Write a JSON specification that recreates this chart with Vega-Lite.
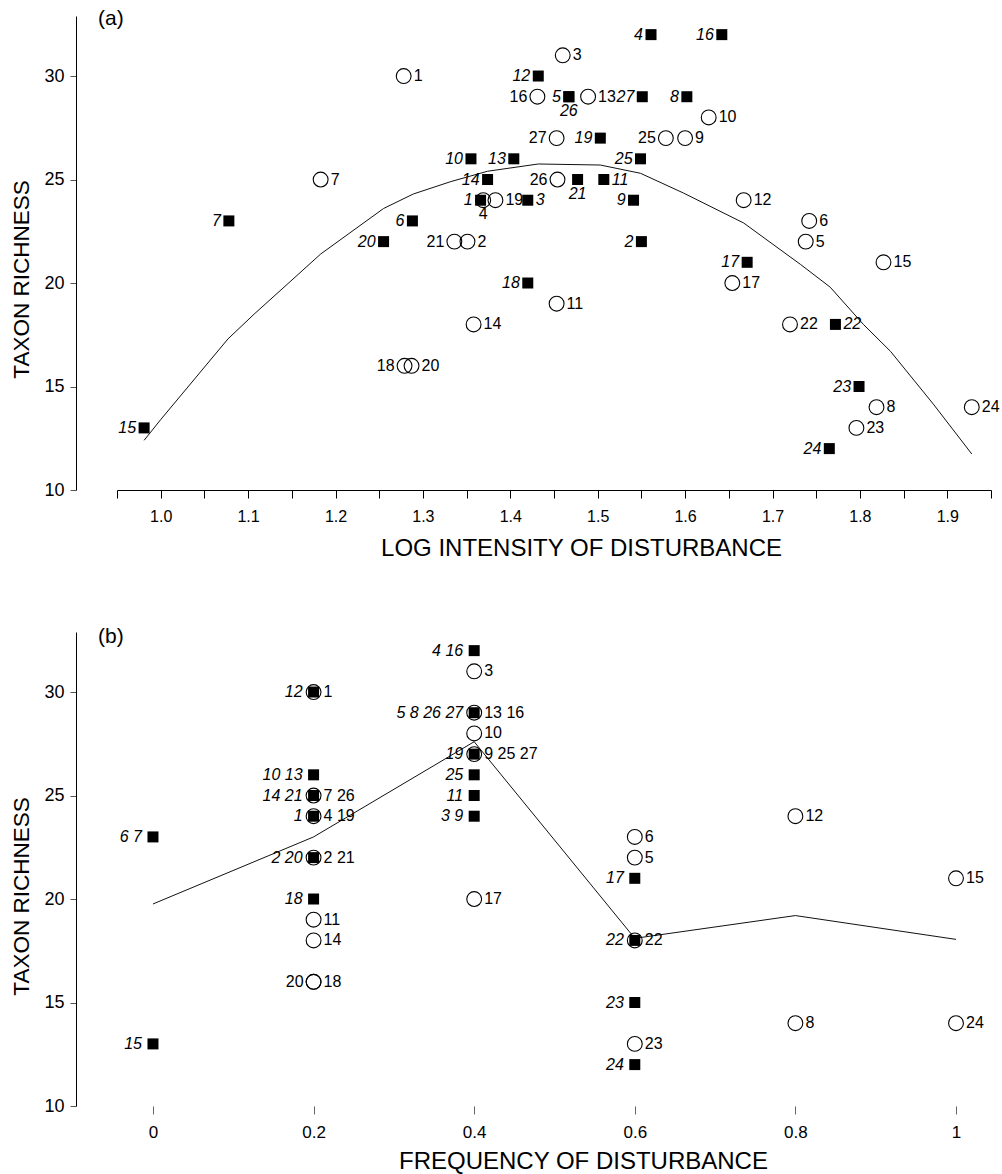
{
  "$schema": "https://vega.github.io/schema/vega-lite/v6.json",
  "padding": {"left": 10, "top": 8, "right": 5, "bottom": 5},
  "background": "white",
  "config": {
    "view": {"stroke": null},
    "font": "Liberation Sans",
    "axis": {"grid": false, "domainColor": "#000", "tickColor": "#000", "labelColor": "#000", "titleColor": "#000", "titleFontWeight": "normal", "labelFont": "Liberation Sans", "titleFont": "Liberation Sans", "labelFlush": false, "labelOverlap": false, "labelBound": false}
  },
  "datasets": {
    "a_curve": [
      {"x": 0.981, "y": 12.4}, {"x": 1.0, "y": 13.4}, {"x": 1.077, "y": 17.3}, {"x": 1.107, "y": 18.5},
      {"x": 1.149, "y": 20.1}, {"x": 1.183, "y": 21.4}, {"x": 1.255, "y": 23.6}, {"x": 1.289, "y": 24.3},
      {"x": 1.332, "y": 24.9}, {"x": 1.374, "y": 25.4}, {"x": 1.432, "y": 25.75}, {"x": 1.503, "y": 25.7},
      {"x": 1.549, "y": 25.3}, {"x": 1.598, "y": 24.35}, {"x": 1.667, "y": 22.9}, {"x": 1.732, "y": 20.9},
      {"x": 1.766, "y": 19.8}, {"x": 1.804, "y": 18.0}, {"x": 1.835, "y": 16.7}, {"x": 1.884, "y": 14.15},
      {"x": 1.928, "y": 11.74}
    ],
    "a_points": [
      {"type": "sq", "lab": "1", "x": 1.366, "y": 24, "side": "L"},
      {"type": "sq", "lab": "2", "x": 1.550, "y": 22, "side": "L"},
      {"type": "sq", "lab": "3", "x": 1.420, "y": 24, "side": "R"},
      {"type": "sq", "lab": "4", "x": 1.561, "y": 32, "side": "L"},
      {"type": "sq", "lab": "5", "x": 1.467, "y": 29, "side": "L"},
      {"type": "sq", "lab": "6", "x": 1.288, "y": 23, "side": "L"},
      {"type": "sq", "lab": "7", "x": 1.078, "y": 23, "side": "L"},
      {"type": "sq", "lab": "8", "x": 1.602, "y": 29, "side": "L"},
      {"type": "sq", "lab": "9", "x": 1.541, "y": 24, "side": "L"},
      {"type": "sq", "lab": "10", "x": 1.355, "y": 26, "side": "L"},
      {"type": "sq", "lab": "11", "x": 1.507, "y": 25, "side": "R"},
      {"type": "sq", "lab": "12", "x": 1.432, "y": 30, "side": "L"},
      {"type": "sq", "lab": "13", "x": 1.404, "y": 26, "side": "L"},
      {"type": "sq", "lab": "14", "x": 1.374, "y": 25, "side": "L"},
      {"type": "sq", "lab": "15", "x": 0.981, "y": 13, "side": "L"},
      {"type": "sq", "lab": "16", "x": 1.642, "y": 32, "side": "L"},
      {"type": "sq", "lab": "17", "x": 1.671, "y": 21, "side": "L"},
      {"type": "sq", "lab": "18", "x": 1.420, "y": 20, "side": "L"},
      {"type": "sq", "lab": "19", "x": 1.503, "y": 27, "side": "L"},
      {"type": "sq", "lab": "20", "x": 1.255, "y": 22, "side": "L"},
      {"type": "sq", "lab": "21", "x": 1.477, "y": 25, "side": "B"},
      {"type": "sq", "lab": "22", "x": 1.772, "y": 18, "side": "R"},
      {"type": "sq", "lab": "23", "x": 1.799, "y": 15, "side": "L"},
      {"type": "sq", "lab": "24", "x": 1.765, "y": 12, "side": "L"},
      {"type": "sq", "lab": "25", "x": 1.549, "y": 26, "side": "L"},
      {"type": "sq", "lab": "26", "x": 1.467, "y": 29, "side": "B"},
      {"type": "sq", "lab": "27", "x": 1.551, "y": 29, "side": "L"},
      {"type": "ci", "lab": "1", "x": 1.278, "y": 30, "side": "R"},
      {"type": "ci", "lab": "2", "x": 1.351, "y": 22, "side": "R"},
      {"type": "ci", "lab": "3", "x": 1.460, "y": 31, "side": "R"},
      {"type": "ci", "lab": "4", "x": 1.369, "y": 24, "side": "B"},
      {"type": "ci", "lab": "5", "x": 1.738, "y": 22, "side": "R"},
      {"type": "ci", "lab": "6", "x": 1.742, "y": 23, "side": "R"},
      {"type": "ci", "lab": "7", "x": 1.183, "y": 25, "side": "R"},
      {"type": "ci", "lab": "8", "x": 1.819, "y": 14, "side": "R"},
      {"type": "ci", "lab": "9", "x": 1.600, "y": 27, "side": "R"},
      {"type": "ci", "lab": "10", "x": 1.627, "y": 28, "side": "R"},
      {"type": "ci", "lab": "11", "x": 1.453, "y": 19, "side": "R"},
      {"type": "ci", "lab": "12", "x": 1.667, "y": 24, "side": "R"},
      {"type": "ci", "lab": "13", "x": 1.489, "y": 29, "side": "R"},
      {"type": "ci", "lab": "14", "x": 1.358, "y": 18, "side": "R"},
      {"type": "ci", "lab": "15", "x": 1.827, "y": 21, "side": "R"},
      {"type": "ci", "lab": "16", "x": 1.431, "y": 29, "side": "L"},
      {"type": "ci", "lab": "17", "x": 1.654, "y": 20, "side": "R"},
      {"type": "ci", "lab": "18", "x": 1.279, "y": 16, "side": "L"},
      {"type": "ci", "lab": "19", "x": 1.383, "y": 24, "side": "R"},
      {"type": "ci", "lab": "20", "x": 1.287, "y": 16, "side": "R"},
      {"type": "ci", "lab": "21", "x": 1.336, "y": 22, "side": "L"},
      {"type": "ci", "lab": "22", "x": 1.720, "y": 18, "side": "R"},
      {"type": "ci", "lab": "23", "x": 1.796, "y": 13, "side": "R"},
      {"type": "ci", "lab": "24", "x": 1.928, "y": 14, "side": "R"},
      {"type": "ci", "lab": "25", "x": 1.578, "y": 27, "side": "L"},
      {"type": "ci", "lab": "26", "x": 1.454, "y": 25, "side": "L"},
      {"type": "ci", "lab": "27", "x": 1.453, "y": 27, "side": "L"}
    ],
    "b_curve": [
      {"x": 0, "y": 19.76}, {"x": 0.2, "y": 23.0}, {"x": 0.4, "y": 27.6},
      {"x": 0.6, "y": 18.1}, {"x": 0.8, "y": 19.2}, {"x": 1.0, "y": 18.05}
    ],
    "b_points": [
      {"type": "ci", "lab": "1", "x": 0.2, "y": 30, "side": "R"},
      {"type": "ci", "lab": "7 26", "x": 0.2, "y": 25, "side": "R"},
      {"type": "ci", "lab": "4 19", "x": 0.2, "y": 24, "side": "R"},
      {"type": "ci", "lab": "2 21", "x": 0.2, "y": 22, "side": "R"},
      {"type": "ci", "lab": "11", "x": 0.2, "y": 19, "side": "R"},
      {"type": "ci", "lab": "14", "x": 0.2, "y": 18, "side": "R"},
      {"type": "ci", "lab": "18", "x": 0.2, "y": 16, "side": "R"},
      {"type": "ci", "lab": "20", "x": 0.2, "y": 16, "side": "L"},
      {"type": "ci", "lab": "3", "x": 0.4, "y": 31, "side": "R"},
      {"type": "ci", "lab": "13 16", "x": 0.4, "y": 29, "side": "R"},
      {"type": "ci", "lab": "10", "x": 0.4, "y": 28, "side": "R"},
      {"type": "ci", "lab": "9 25 27", "x": 0.4, "y": 27, "side": "R"},
      {"type": "ci", "lab": "17", "x": 0.4, "y": 20, "side": "R"},
      {"type": "ci", "lab": " 6", "x": 0.6, "y": 23, "side": "R"},
      {"type": "ci", "lab": " 5", "x": 0.6, "y": 22, "side": "R"},
      {"type": "ci", "lab": "22", "x": 0.6, "y": 18, "side": "R"},
      {"type": "ci", "lab": "23", "x": 0.6, "y": 13, "side": "R"},
      {"type": "ci", "lab": "12", "x": 0.8, "y": 24, "side": "R"},
      {"type": "ci", "lab": "8", "x": 0.8, "y": 14, "side": "R"},
      {"type": "ci", "lab": "15", "x": 1.0, "y": 21, "side": "R"},
      {"type": "ci", "lab": "24", "x": 1.0, "y": 14, "side": "R"},
      {"type": "sq", "lab": "6 7", "x": 0, "y": 23, "side": "L"},
      {"type": "sq", "lab": "15", "x": 0, "y": 13, "side": "L"},
      {"type": "sq", "lab": "12", "x": 0.2, "y": 30, "side": "L"},
      {"type": "sq", "lab": "10 13", "x": 0.2, "y": 26, "side": "L"},
      {"type": "sq", "lab": "14 21", "x": 0.2, "y": 25, "side": "L"},
      {"type": "sq", "lab": "1", "x": 0.2, "y": 24, "side": "L"},
      {"type": "sq", "lab": "2 20", "x": 0.2, "y": 22, "side": "L"},
      {"type": "sq", "lab": "18", "x": 0.2, "y": 20, "side": "L"},
      {"type": "sq", "lab": "4 16", "x": 0.4, "y": 32, "side": "L"},
      {"type": "sq", "lab": "5 8 26 27", "x": 0.4, "y": 29, "side": "L"},
      {"type": "sq", "lab": "19", "x": 0.4, "y": 27, "side": "L"},
      {"type": "sq", "lab": "25", "x": 0.4, "y": 26, "side": "L"},
      {"type": "sq", "lab": "11", "x": 0.4, "y": 25, "side": "L"},
      {"type": "sq", "lab": "3 9", "x": 0.4, "y": 24, "side": "L"},
      {"type": "sq", "lab": "17", "x": 0.6, "y": 21, "side": "L"},
      {"type": "sq", "lab": "22", "x": 0.6, "y": 18, "side": "L"},
      {"type": "sq", "lab": "23", "x": 0.6, "y": 15, "side": "L"},
      {"type": "sq", "lab": "24", "x": 0.6, "y": 12, "side": "L"}
    ]
  },
  "concat": [
    {
      "width": 874,
      "height": 474,
      "title": {"text": "(a)", "anchor": "start", "frame": "group", "orient": "top", "offset": 0, "fontSize": 21, "fontWeight": "normal", "font": "Liberation Sans", "color": "#000", "dx": -19, "dy": 13},
      "encoding": {
        "x": {"field": "x", "type": "quantitative",
          "scale": {"domain": [0.95, 1.95], "nice": false, "zero": false},
          "axis": {"values": [0.95, 1, 1.05, 1.1, 1.15, 1.2, 1.25, 1.3, 1.35, 1.4, 1.45, 1.5, 1.55, 1.6, 1.65, 1.7, 1.75, 1.8, 1.85, 1.9, 1.95],
            "labelExpr": "round(datum.value*20)%2==0 ? format(datum.value,'.1f') : ''",
            "tickSize": 8, "labelPadding": 10, "labelFontSize": 16,
            "title": "LOG INTENSITY OF DISTURBANCE", "titleFontSize": 24, "titleX": 464, "titlePadding": 12}},
        "y": {"field": "y", "type": "quantitative",
          "scale": {"domain": [10, 32.9], "nice": false, "zero": false},
          "axis": {"values": [10, 15, 20, 25, 30], "offset": 41, "tickSize": 6, "tickColor": "#555", "labelPadding": 6, "labelFontSize": 18,
            "title": "TAXON RICHNESS", "titleFontSize": 22.5, "titleY": 263, "titlePadding": 10}}
      },
      "layer": [
        {"data": {"name": "a_curve"}, "mark": {"type": "line", "color": "#111", "strokeWidth": 1}, "encoding": {}},
        {"data": {"name": "a_points"}, "transform": [{"filter": "datum.type=='ci'"}],
          "mark": {"type": "point", "shape": "circle", "filled": false, "stroke": "#000", "strokeWidth": 1.1, "size": 220, "opacity": 1}},
        {"data": {"name": "a_points"}, "transform": [{"filter": "datum.type=='sq'"}],
          "mark": {"type": "square", "color": "#000", "size": 121, "opacity": 1}},
        {"data": {"name": "a_points"}, "transform": [{"filter": "datum.type=='sq' && datum.side=='L'"}],
          "mark": {"type": "text", "align": "right", "baseline": "middle", "dx": -8, "fontSize": 16, "fontStyle": "italic", "color": "#000"},
          "encoding": {"text": {"field": "lab"}}},
        {"data": {"name": "a_points"}, "transform": [{"filter": "datum.type=='sq' && datum.side=='R'"}],
          "mark": {"type": "text", "align": "left", "baseline": "middle", "dx": 8, "fontSize": 16, "fontStyle": "italic", "color": "#000"},
          "encoding": {"text": {"field": "lab"}}},
        {"data": {"name": "a_points"}, "transform": [{"filter": "datum.type=='sq' && datum.side=='B'"}],
          "mark": {"type": "text", "align": "center", "baseline": "middle", "dy": 14, "fontSize": 16, "fontStyle": "italic", "color": "#000"},
          "encoding": {"text": {"field": "lab"}}},
        {"data": {"name": "a_points"}, "transform": [{"filter": "datum.type=='ci' && datum.side=='R'"}],
          "mark": {"type": "text", "align": "left", "baseline": "middle", "dx": 10, "fontSize": 16, "color": "#000"},
          "encoding": {"text": {"field": "lab"}}},
        {"data": {"name": "a_points"}, "transform": [{"filter": "datum.type=='ci' && datum.side=='L'"}],
          "mark": {"type": "text", "align": "right", "baseline": "middle", "dx": -10, "fontSize": 16, "color": "#000"},
          "encoding": {"text": {"field": "lab"}}},
        {"data": {"name": "a_points"}, "transform": [{"filter": "datum.type=='ci' && datum.side=='B'"}],
          "mark": {"type": "text", "align": "center", "baseline": "middle", "dy": 14, "fontSize": 16, "color": "#000"},
          "encoding": {"text": {"field": "lab"}}}
      ]
    },
    {
      "width": 839,
      "height": 474,
      "title": {"text": "(b)", "anchor": "start", "frame": "group", "orient": "top", "offset": 0, "fontSize": 21, "fontWeight": "normal", "font": "Liberation Sans", "color": "#000", "dx": -19, "dy": 15},
      "encoding": {
        "x": {"field": "x", "type": "quantitative",
          "scale": {"domain": [-0.0448, 1], "nice": false, "zero": false},
          "axis": {"values": [0, 0.2, 0.4, 0.6, 0.8, 1], "labelExpr": "toString(datum.value)", "domain": false,
            "tickSize": 8, "tickColor": "#666", "labelPadding": 10, "labelFontSize": 17,
            "title": "FREQUENCY OF DISTURBANCE", "titleFontSize": 24, "titleX": 466, "titlePadding": 9}},
        "y": {"field": "y", "type": "quantitative",
          "scale": {"domain": [10, 32.9], "nice": false, "zero": false},
          "axis": {"values": [10, 15, 20, 25, 30], "offset": 41, "tickSize": 6, "tickColor": "#555", "labelPadding": 6, "labelFontSize": 18,
            "title": "TAXON RICHNESS", "titleFontSize": 22.5, "titleY": 264, "titlePadding": 10}}
      },
      "layer": [
        {"data": {"values": [{"a": 0}]}, "mark": {"type": "rule", "color": "#888", "strokeWidth": 1},
          "encoding": {"x": {"datum": 0}, "x2": {"datum": 1}, "y": {"datum": 10}}},
        {"data": {"name": "b_curve"}, "mark": {"type": "line", "color": "#111", "strokeWidth": 1}, "encoding": {}},
        {"data": {"name": "b_points"}, "transform": [{"filter": "datum.type=='ci'"}],
          "mark": {"type": "point", "shape": "circle", "filled": false, "stroke": "#000", "strokeWidth": 1.1, "size": 220, "opacity": 1}},
        {"data": {"name": "b_points"}, "transform": [{"filter": "datum.type=='sq'"}],
          "mark": {"type": "square", "color": "#000", "size": 121, "opacity": 1}},
        {"data": {"name": "b_points"}, "transform": [{"filter": "datum.type=='sq' && datum.side=='L'"}],
          "mark": {"type": "text", "align": "right", "baseline": "middle", "dx": -11, "fontSize": 16, "fontStyle": "italic", "color": "#000"},
          "encoding": {"text": {"field": "lab"}}},
        {"data": {"name": "b_points"}, "transform": [{"filter": "datum.type=='ci' && datum.side=='R'"}],
          "mark": {"type": "text", "align": "left", "baseline": "middle", "dx": 10, "fontSize": 16, "color": "#000"},
          "encoding": {"text": {"field": "lab"}}},
        {"data": {"name": "b_points"}, "transform": [{"filter": "datum.type=='ci' && datum.side=='L'"}],
          "mark": {"type": "text", "align": "right", "baseline": "middle", "dx": -10, "fontSize": 16, "color": "#000"},
          "encoding": {"text": {"field": "lab"}}}
      ]
    }
  ],
  "columns": 1,
  "spacing": 66
}
